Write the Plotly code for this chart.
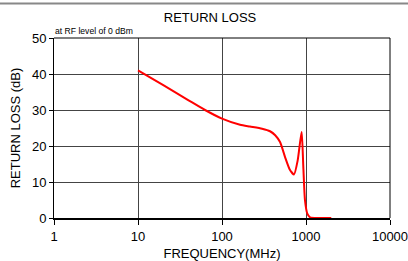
import plotly.graph_objects as go

freq_mhz = [10, 20, 40, 62.8, 100, 164, 215, 300, 373, 430, 491, 562, 640, 719, 796, 850, 889, 929, 973, 1037, 1117, 1400, 2000]
return_loss_db = [41.0, 36.9, 32.7, 30.0, 27.6, 25.9, 25.4, 24.8, 24.1, 23.0, 21.1, 17.0, 13.5, 12.1, 16.0, 21.0, 23.9, 14.2, 4.9, 1.2, 0.2, 0.0, 0.0]

x_ticks = [1, 10, 100, 1000, 10000]
y_ticks = [0, 10, 20, 30, 40, 50]

W, H = 408, 261
L, R, T, B = 54, 18, 38, 43
pw = W - L - R
ph = H - T - B

font = "Liberation Sans, Arial, sans-serif"
FS = 13

fig = go.Figure()
fig.add_trace(go.Scatter(
    x=freq_mhz, y=return_loss_db, mode="lines",
    line=dict(color="#ff0000", width=2, shape="spline", smoothing=0.6),
    showlegend=False, hoverinfo="skip",
))

fig.update_layout(
    width=W, height=H,
    margin=dict(l=L, r=R, t=T, b=B, autoexpand=False),
    paper_bgcolor="white", plot_bgcolor="white",
    font=dict(family=font, size=FS, color="black"),
    title=dict(text="RETURN LOSS", x=210 / W, xanchor="center",
               y=1 - 17 / H, yanchor="middle", font=dict(size=FS, family=font)),
    xaxis=dict(
        type="log", range=[0, 4], tickvals=x_ticks,
        ticktext=[str(v) for v in x_ticks],
        showgrid=True, gridcolor="#444444", gridwidth=1,
        showline=True, linecolor="black", linewidth=2, mirror=False,
        ticks="outside", ticklen=5, tickcolor="black", tickwidth=1,
        tickfont=dict(size=FS, family=font), automargin=False,
        ticklabeloverflow="allow",
        title=dict(text="FREQUENCY(MHz)", font=dict(size=FS, family=font), standoff=6),
        zeroline=False,
    ),
    yaxis=dict(
        range=[0, 50], tickvals=y_ticks,
        showgrid=True, gridcolor="#444444", gridwidth=1,
        showline=True, linecolor="black", linewidth=1,
        ticks="outside", ticklen=4, tickcolor="black", tickwidth=1,
        tickfont=dict(size=FS, family=font), automargin=False,
        title=dict(text="RETURN LOSS (dB)", font=dict(size=FS, family=font), standoff=8),
        zeroline=False,
    ),
)

fig.add_shape(type="line", xref="paper", yref="paper", x0=0, x1=1, y0=1, y1=1,
              line=dict(color="black", width=1))
fig.add_shape(type="line", xref="paper", yref="paper", x0=1, x1=1, y0=0, y1=1,
              line=dict(color="black", width=1))
fig.add_shape(type="line", xref="paper", yref="paper", layer="above",
              x0=-L / pw, x1=1 + R / pw, y0=1 + (T - 3.5) / ph, y1=1 + (T - 3.5) / ph,
              line=dict(color="#888888", width=2))

fig.add_annotation(text="at RF level of 0 dBm", xref="paper", yref="paper",
                   x=-1 / pw, xanchor="left", y=1 + (T - 31) / ph, yanchor="middle",
                   showarrow=False, font=dict(size=8.6, family=font, color="black"))

fig.write_html("out.html", config={"displayModeBar": False},
               post_script="document.body.style.margin='0';document.body.style.overflow='hidden';")
